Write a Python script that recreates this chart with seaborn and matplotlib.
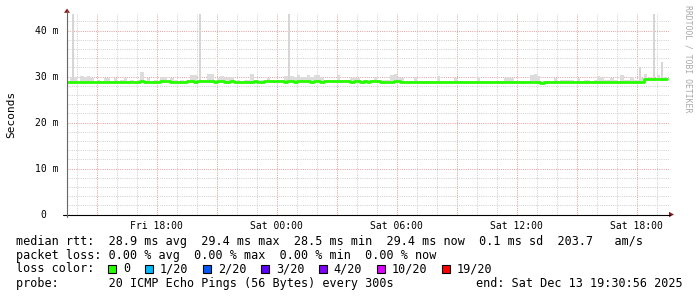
import numpy as np
import pandas as pd
import matplotlib
matplotlib.use("Agg")
import matplotlib.pyplot as plt
import seaborn as sns
from matplotlib.patches import Rectangle, Polygon
from matplotlib.lines import Line2D

# ---------------- data ----------------
START_H = 13 + 30 / 60 + 56 / 3600   # Fri 13:30:56, hours since Fri 00:00
STEP_H = 10 / 60                      # 10-minute bins
SPAN_H = 30.0

median_ms = [
    28.9, 28.8, 28.7, 28.8, 28.9, 28.9,
    28.9, 28.8, 28.9, 28.9, 28.8, 28.9,
    28.8, 28.9, 28.9, 28.8, 28.9, 28.9,
    28.9, 28.9, 28.8, 28.9, 29.0, 28.9,
    28.9, 28.8, 28.9, 28.9, 29.0, 29.0,
    29.0, 28.9, 28.9, 28.9, 28.8, 28.9,
    29.0, 29.0, 28.9, 29.0, 29.0, 29.0,
    29.0, 29.0, 28.9, 29.0, 29.0, 28.9,
    28.9, 29.0, 28.9, 28.9, 28.8, 28.9,
    28.9, 28.9, 29.0, 28.9, 28.9, 29.0,
    29.0, 29.0, 29.0, 29.0, 29.0, 28.9,
    29.0, 29.0, 28.9, 29.0, 29.0, 29.0,
    29.0, 28.9, 29.0, 29.0, 28.9, 29.0,
    29.1, 29.0, 29.0, 29.0, 29.0, 29.0,
    29.0, 28.9, 29.0, 29.0, 28.9, 29.0,
    28.9, 29.0, 29.0, 29.0, 28.9, 28.9,
    28.9, 28.9, 29.0, 29.0, 28.9, 28.8,
    28.8, 28.7, 28.8, 28.7, 28.8, 28.8,
    28.8, 28.7, 28.8, 28.8, 28.7, 28.8,
    28.8, 28.8, 28.7, 28.8, 28.8, 28.7,
    28.8, 28.8, 28.8, 28.7, 28.8, 28.8,
    28.7, 28.8, 28.8, 28.8, 28.8, 28.7,
    28.7, 28.7, 28.8, 28.8, 28.8, 28.8,
    28.8, 28.8, 28.7, 28.7, 28.6, 28.7,
    28.8, 28.8, 28.8, 28.8, 28.9, 28.9,
    28.9, 28.9, 28.9, 28.9, 28.8, 28.9,
    28.9, 28.9, 28.9, 28.9, 28.8, 28.9,
    28.9, 28.9, 28.9, 28.9, 28.9, 28.8,
    28.9, 28.9, 28.8, 28.9, 28.9, 29.4,
    29.4, 29.4, 29.4, 29.4, 29.4, 29.4,
]

smoke_top_ms = [
    29.1, 30.0, 30.0, 29.1, 30.1, 29.8,
    30.1, 29.7, 29.1, 29.2, 29.1, 29.7,
    29.7, 29.1, 29.6, 29.1, 29.2, 29.7,
    29.1, 29.2, 29.1, 29.3, 30.9, 29.1,
    29.7, 29.1, 29.2, 29.1, 29.8, 29.8,
    29.1, 29.6, 29.2, 29.1, 29.3, 29.1,
    29.2, 30.3, 30.3, 29.1, 29.2, 29.3,
    30.5, 30.5, 29.2, 29.6, 30.2, 29.7,
    29.8, 29.8, 29.1, 29.2, 29.1, 29.2,
    29.2, 30.5, 29.1, 29.3, 29.2, 29.1,
    29.7, 29.2, 29.1, 29.3, 29.2, 30.1,
    30.1, 30.2, 29.8, 30.3, 29.8, 30.0,
    30.3, 29.8, 30.3, 30.3, 29.7, 29.2,
    29.3, 29.2, 29.3, 30.3, 29.2, 29.3,
    29.2, 29.7, 29.7, 29.7, 29.2, 29.3,
    29.2, 29.3, 29.8, 29.2, 29.3, 29.2,
    29.2, 30.3, 30.5, 30.0, 29.7, 29.1,
    29.1, 29.0, 29.9, 29.0, 29.1, 29.0,
    29.1, 29.0, 29.1, 30.1, 29.0, 29.1,
    29.0, 29.1, 29.6, 29.0, 29.1, 29.0,
    29.1, 29.0, 29.1, 29.8, 29.1, 29.0,
    29.0, 29.1, 29.1, 29.0, 29.1, 29.6,
    29.9, 29.7, 29.1, 29.0, 29.1, 29.1,
    29.1, 30.3, 30.5, 30.2, 29.0, 29.0,
    29.1, 29.1, 29.6, 29.1, 29.2, 29.2,
    29.2, 29.2, 29.1, 29.7, 29.1, 29.2,
    29.2, 29.1, 29.2, 30.1, 29.8, 29.2,
    29.2, 29.7, 29.2, 29.1, 30.3, 29.2,
    29.2, 30.0, 29.2, 29.3, 29.6, 30.6,
    29.6, 29.6, 29.7, 30.4, 29.6, 29.8,
]

spike_hours = [13.83, 20.17, 24.62, 42.15, 42.85, 43.27]
spike_top_ms = [44.5, 44.5, 44.5, 32.0, 44.5, 33.2]
spike_base_ms = 29.0

x_tick_hours = [18, 24, 30, 36, 42]
x_tick_labels = ["Fri 18:00", "Sat 00:00", "Sat 06:00", "Sat 12:00", "Sat 18:00"]
y_tick_ms = [0, 10, 20, 30, 40]
y_tick_labels = ["0  ", "10 m", "20 m", "30 m", "40 m"]

loss_labels = ["0", "1/20", "2/20", "3/20", "4/20", "10/20", "19/20"]
loss_colors = ["#26ff00", "#00b8ff", "#0059ff", "#5e00ff", "#7e00ff", "#dd00ff", "#ff0000"]

legend_lines = [
    "median rtt:  28.9 ms avg  29.4 ms max  28.5 ms min  29.4 ms now  0.1 ms sd  203.7   am/s",
    "packet loss: 0.00 % avg  0.00 % max  0.00 % min  0.00 % now",
    "loss color:",
    "probe:       20 ICMP Echo Pings (56 Bytes) every 300s",
]
end_text = "end: Sat Dec 13 19:30:56 2025"
watermark = "RRDTOOL / TOBI OETIKER"
y_label = "Seconds"

# ---------------- style ----------------
sns.set_theme(style="white")
plt.rcParams["font.family"] = ["DejaVu Sans Mono", "DejaVu Sans"]

W, H = 697, 297
fig = plt.figure(figsize=(W / 100, H / 100), dpi=100)
fig.patch.set_facecolor("white")

def fx(px):
    return px / W

def fy(py):
    return 1 - py / H

PL, PR, PT, PB = 67, 669, 14, 214.5
ax = fig.add_axes([fx(PL), fy(PB), fx(PR - PL), (PB - PT) / H])
ax.set_facecolor("white")

px_per_ms = 4.6
px_per_h = 20.0
ax.set_ylim(0, (PB - PT) / px_per_ms)
ax.set_xlim(START_H, START_H + (PR - PL) / px_per_h)

n = len(median_ms)
t = START_H + np.arange(n) * STEP_H
df = pd.DataFrame({"t": t, "median": median_ms, "smoke": smoke_top_ms})

# smoke
ax.bar(df["t"], df["smoke"] - df["median"], bottom=df["median"], width=STEP_H,
       align="edge", color="#dcdcdc", linewidth=0, zorder=2)
ax.bar(spike_hours, np.array(spike_top_ms) - spike_base_ms, bottom=spike_base_ms,
       width=0.1, align="center", color="#d6d6d6", linewidth=0, zorder=2)

# median line (step)
line_df = pd.concat([df[["t", "median"]],
                     pd.DataFrame({"t": [START_H + SPAN_H], "median": [median_ms[-1]]})],
                    ignore_index=True)
sns.lineplot(data=line_df, x="t", y="median", drawstyle="steps-post",
             color="#26ff00", linewidth=2.0, ax=ax, zorder=3)

# grid
hour_minor = np.arange(14, 44, 1)
hour_major = np.arange(15, 44, 3)
ax.set_xticks(hour_major)
ax.set_xticks(hour_minor, minor=True)
ax.set_xticklabels([x_tick_labels[x_tick_hours.index(h)] if h in x_tick_hours else ""
                    for h in hour_major])
ax.set_yticks(y_tick_ms)
ax.set_yticklabels(y_tick_labels)
ax.set_yticks(np.arange(0, 44, 2), minor=True)
ax.grid(which="minor", color="#d0d0d0", linestyle=(0, (1, 1.2)), linewidth=0.72, zorder=0)
ax.grid(which="major", color="#e2a0a0", linestyle=(0, (1, 1.2)), linewidth=0.72, zorder=0)
ax.set_axisbelow(True)
ax.tick_params(axis="x", which="major", direction="out", length=2.0, width=0.72,
               color="#c49a9a", pad=2.6, labelsize=7, labelcolor="black")
ax.tick_params(axis="y", which="major", direction="out", length=2.5, width=0.72,
               color="#dea3a3", pad=3.6, labelsize=7, labelcolor="black")
ax.tick_params(which="minor", length=0)
ax.set_xlabel("")
ax.set_ylabel("")
for s in ax.spines.values():
    s.set_visible(False)

# axes lines and arrows (figure pixel coordinates)
fig.add_artist(Line2D([fx(63), fx(670)], [fy(PB), fy(PB)], color="black", linewidth=0.8))
fig.add_artist(Line2D([fx(PL), fx(PL)], [fy(217), fy(11)], color="#666666", linewidth=0.8))
fig.add_artist(Polygon([[fx(64), fy(12.8)], [fx(70), fy(12.8)], [fx(67), fy(8.5)]],
                       closed=True, color="#8b1a1a", linewidth=0))
fig.add_artist(Polygon([[fx(669), fy(211.8)], [fx(669), fy(217.2)], [fx(674), fy(PB)]],
                       closed=True, color="#8b1a1a", linewidth=0))

# y label & watermark
fig.text(fx(11), fy(114), y_label, rotation=90, ha="center", va="center", fontsize=8,
         color="black")
fig.text(fx(688), fy(59), watermark, rotation=270, ha="center", va="center",
         fontsize=5.9, color="#a8a8a8")

# legend text
FS = 8.5
CW = 7.11
line_y = [241, 255, 269, 283.3]
for txt, yy in zip(legend_lines, line_y):
    fig.text(fx(16), fy(yy), txt, ha="left", va="center", fontsize=FS, color="black")
fig.text(fx(476), fy(line_y[3]), end_text, ha="left", va="center", fontsize=FS, color="black")

bx = 16 + 13 * CW
for lab, col in zip(loss_labels, loss_colors):
    fig.add_artist(Rectangle((fx(bx), fy(line_y[2] + 4)), fx(8), 8 / H,
                             facecolor=col, edgecolor="black", linewidth=0.8))
    lx = bx + 15
    fig.text(fx(lx), fy(line_y[2]), lab, ha="left", va="center", fontsize=FS, color="black")
    bx = lx + len(lab) * CW + 14.5

fig.savefig("out.png", dpi=100, facecolor="white")
